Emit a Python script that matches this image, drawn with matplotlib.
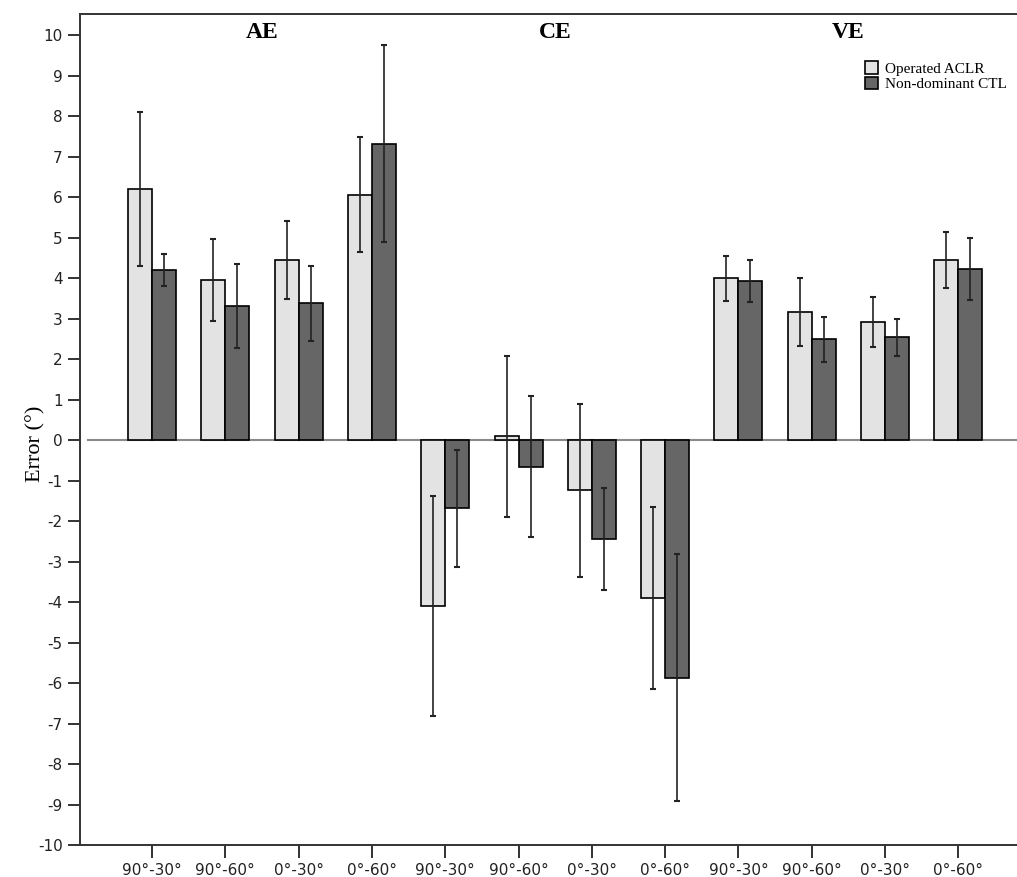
import numpy as np
import matplotlib
matplotlib.use("Agg")
import matplotlib.pyplot as plt

plt.rcParams["axes.unicode_minus"] = False

# conditions, repeated for AE / CE / VE
conditions = ["90°-30°", "90°-60°", "0°-30°", "0°-60°"]
groups = ["AE", "CE", "VE"]

# means (deg)
operated = [6.21, 3.96, 4.45, 6.07,
            -4.10, 0.10, -1.24, -3.90,
            4.00, 3.17, 2.92, 4.45]
nondominant = [4.21, 3.32, 3.38, 7.33,
               -1.68, -0.65, -2.44, -5.87,
               3.93, 2.49, 2.54, 4.23]

# error bar half-lengths
operated_err = [1.90, 1.01, 0.96, 1.42,
                2.72, 1.99, 2.14, 2.25,
                0.55, 0.84, 0.62, 0.70]
nondominant_err = [0.39, 1.03, 0.92, 2.43,
                   1.45, 1.74, 1.26, 3.05,
                   0.52, 0.55, 0.45, 0.76]

light = "#e3e3e3"
dark = "#666666"

fig = plt.figure(figsize=(10.17, 8.77), dpi=100)
ax = fig.add_axes([0.0787, 0.0365, 0.9213, 0.9475])

x = np.arange(len(operated))
w = 0.327

ax.bar(x - w / 2, operated, w, color=light, edgecolor="black", linewidth=1.2,
       label="Operated ACLR", zorder=2)
ax.bar(x + w / 2, nondominant, w, color=dark, edgecolor="black", linewidth=1.2,
       label="Non-dominant CTL", zorder=2)
ax.errorbar(x - w / 2, operated, yerr=operated_err, fmt="none", ecolor="#222222",
            elinewidth=1.2, capsize=2.5, capthick=1.5, zorder=3)
ax.errorbar(x + w / 2, nondominant, yerr=nondominant_err, fmt="none", ecolor="#222222",
            elinewidth=1.2, capsize=2.5, capthick=1.5, zorder=3)

ax.axhline(0, xmin=0.008, color="#8a8a8a", linewidth=1.5, zorder=1)

ax.set_xlim(-0.982, 11.80)
ax.set_ylim(-10, 10.53)
ax.set_yticks(range(-10, 11))
ax.set_xticks(x)
ax.set_xticklabels(conditions * 3)
ax.tick_params(axis="both", labelsize=11, width=1.3, length=9, colors="#222222")
ax.tick_params(axis="x", pad=4)

for s in ["left", "top", "bottom"]:
    ax.spines[s].set_linewidth(1.4)
    ax.spines[s].set_color("#333333")
ax.spines["right"].set_visible(False)

ax.set_ylabel("Error (°)", family="Liberation Serif", fontsize=16)
ax.yaxis.set_label_coords(-0.037, 0.483)

for i, g in enumerate(groups):
    ax.text(4 * i + 1.5, 10.07, g, ha="center", va="center",
            family="Liberation Serif", fontweight="bold", fontsize=17)

fig.legend(loc="upper left", bbox_to_anchor=(0.851, 0.93), frameon=False,
           prop={"family": "Liberation Serif", "size": 11},
           handlelength=0.85, handleheight=0.85, handletextpad=0.4,
           labelspacing=0.05, borderpad=0, borderaxespad=0)

fig.savefig("out.png", dpi=100)
